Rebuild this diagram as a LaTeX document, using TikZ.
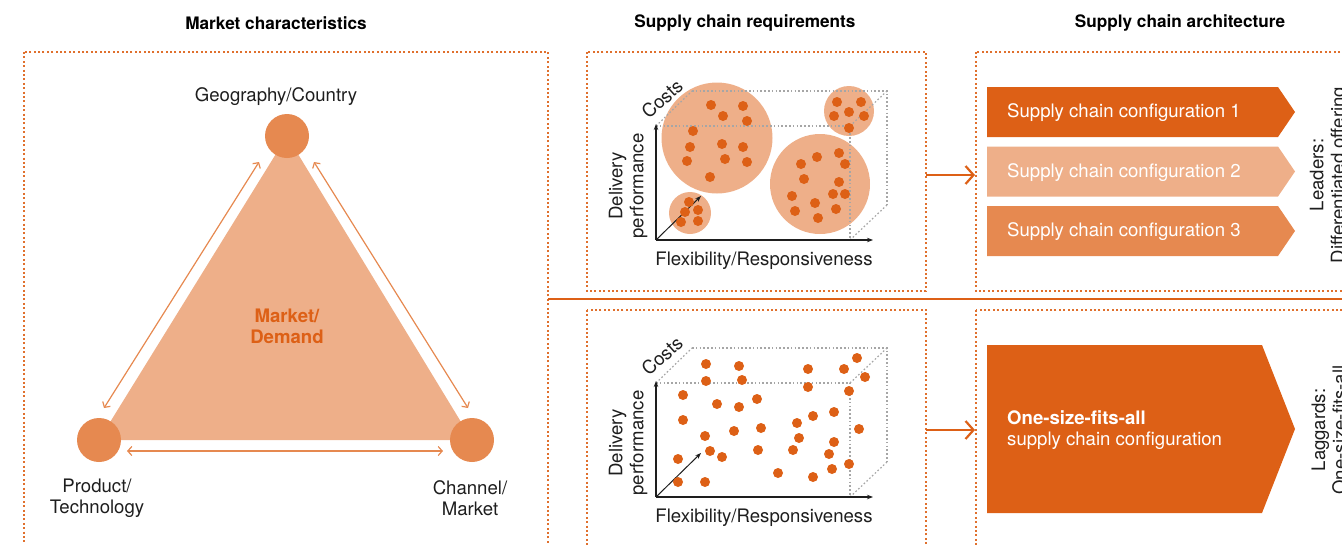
\documentclass[tikz,border=0pt]{standalone}
\usepackage{fontspec}
\setmainfont{TeX Gyre Heros}
\usetikzlibrary{arrows.meta, positioning}
\definecolor{pumpkin}{RGB}{221,96,22}
\definecolor{apricot}{RGB}{238,175,137}
\definecolor{tangerine}{RGB}{230,137,80}
\definecolor{inkgray}{RGB}{30,30,30}
\tikzset{frame/.style = {draw=pumpkin!90, line width=2pt, dash pattern=on 2pt off 2.4pt}}
\tikzset{cube/.style = {draw=gray!70, line width=1.2pt, dash pattern=on 1.6pt off 2.2pt}}
\tikzset{axis/.style = {draw=inkgray, line width=1.3pt, -{Stealth[length=6pt,width=4.5pt]}}}
\tikzset{link/.style = {draw=tangerine, line width=1.2pt, {Straight Barb[length=4pt,width=9pt]}-{Straight Barb[length=4pt,width=9pt]}}}
\tikzset{flow/.style = {draw=pumpkin, line width=2.2pt, -{Straight Barb[length=8pt,width=18pt]}}}
\tikzset{txt/.style = {text=inkgray, font=\fontsize{18.6}{21}\selectfont, align=center, inner sep=0pt}}
\tikzset{title/.style = {text=black, font=\fontsize{17.2}{20}\selectfont\bfseries, inner sep=0pt}}
\tikzset{vertex/.style = {circle, fill=tangerine, minimum size=44pt, inner sep=0pt}}
\def\R{5}
\def\dY{59.5}

\begin{document}
\begin{tikzpicture}[x=1pt, y=-1pt]
	\useasboundingbox (0,0) rectangle (1342,544);

	% Titles
	\node[title] (mkttitle) at (276,23) {Market characteristics};
	\node[title] (reqtitle) at (745,23) {Supply chain requirements};
	\node[title] (archtitle) at (1180,23) {Supply chain architecture};

	% Frames
	\draw[frame] (24,52) rectangle (548,570);
	\draw[frame] (587,52) rectangle (926,291);
	\draw[frame] (587,310) rectangle (926,570);
	\draw[frame] (976,52) rectangle (1370,291);
	\draw[frame] (976,310) rectangle (1370,570);
	\draw[pumpkin, line width=2pt] (548,299) -- (1370,299);

	% Triangle
	\fill[apricot] (287,136) -- (99,440) -- (472,440) -- cycle;
	\node[vertex] (geo) at (287,136) {};
	\node[vertex] (prod) at (99,440) {};
	\node[vertex] (chan) at (472,440) {};
	%% Links
	\coordinate (geoL) at (259,162);
	\coordinate (geoR) at (314,162);
	\coordinate (prodT) at (104,408);
	\coordinate (prodR) at (127,451);
	\coordinate (chanT) at (468,408);
	\coordinate (chanL) at (443,451);
	\draw[link] (geoL) -- (prodT);
	\draw[link] (geoR) -- (chanT);
	\draw[link] (prodR) -- (chanL);
	%% Labels
	\node[txt] (geolbl) at (276,97) {Geography/Country};
	\node[txt] (prodlbl) at (97,498) {Product/\\Technology};
	\node[txt] (chanlbl) at (470,498) {Channel/\\Market};
	\node[txt, text=pumpkin, font=\fontsize{18.6}{21}\selectfont\bfseries] (core) at (287,326) {Market/\\Demand};

	% Clusters
	\fill[apricot] (717,138) circle (55.5);
	\fill[apricot] (690,213) circle (21);
	\fill[apricot] (849,111) circle (25);
	\fill[apricot] (820,184) circle (50);

	% Axes and Cubes
	\foreach \dy in {0, 257}
	{
		\begin{scope}[shift={(0,\dy)}]
			% Dotted cube
			\draw[cube] (656,126) -- (850,126) -- (850,240);
			\draw[cube] (692,91) -- (887,91) -- (887,205);
			\draw[cube] (656,126) -- (692,91);
			\draw[cube] (850,126) -- (887,91);
			\draw[cube] (850,240) -- (887,205);
			% Axes
			\coordinate (orig\dy) at (656,240);
			\coordinate (yend\dy) at (656,124);
			\coordinate (xend\dy) at (873,240);
			\coordinate (zend\dy) at (701,196);
			\draw[axis] (orig\dy) -- (yend\dy);
			\draw[axis] (orig\dy) -- (xend\dy);
			\draw[axis, line width=1pt] (orig\dy) -- (zend\dy);
			% Axis labels
			\node[txt, rotate=42] (costs\dy) at (662,99) {Costs};
			\node[txt, rotate=90] (perf\dy) at (628,186) {Delivery\\performance};
			\node[txt] (flex\dy) at (764,261) {Flexibility/Responsiveness};
		\end{scope}
	}

	% Dots
	\foreach \p in {(711,105),(743,106),(723,116),(747,121),(693,131),(690,147),(722,144),(743,147),(687,161),(725,159),(747,162),(710,177),
		(689,202),(685,212),(698,210),(681,222),(698,221),
		(837,102),(861,102),(834,116),(849,112),(864,116),(849,128),
		(839,153),(817,157),(801,164),(845,164),(804,179),(839,182),(792,196),(833,194),(845,194),(815,203),(795,211),(836,209),(818,218)}
	{
		\fill[pumpkin] \p circle (\R);
	}
	\foreach \p in {(706,364),(739,366),(808,369),(844,369),(857,358),(865,377),(706,381),(742,380),(808,387),(849,391),
		(683,395),(757,399),(717,404),(739,407),(683,420),(813,416),(834,412),(761,428),(797,423),(734,431),(859,429),
		(705,436),(799,438),(834,442),(710,451),(758,450),(793,450),(678,459),(722,457),(829,454),(849,464),
		(778,473),(813,477),(832,469),(678,482),(705,482)}
	{
		\fill[pumpkin] \p circle (\R);
	}

	% Flow arrows
	\coordinate (reqtop) at (926,175);
	\coordinate (archtop) at (975,175);
	\coordinate (reqbot) at (926,430);
	\coordinate (archbot) at (975,430);
	\draw[flow] (reqtop) -- (archtop);
	\draw[flow] (reqbot) -- (archbot);

	% Configurations
	\foreach \i/\col in {1/pumpkin, 2/apricot, 3/tangerine}
	{
		\fill[\col] (987,87+\i*\dY-\dY) -- ++(291,0) -- ++(17,25) -- ++(-17,25) -- ++(-291,0) -- cycle;
		\node[txt, text=white, anchor=west] (cfg\i) at (1007,113+\i*\dY-\dY) {Supply chain configuration \i};
	}
	\fill[pumpkin] (987,345) -- (1262,345) -- (1295,429) -- (1262,513) -- (987,513) -- cycle;
	\node[txt, text=white, anchor=west, align=left] (onesize) at (1007,430) {\textbf{One-size-fits-all}\\supply chain configuration};

	% Side labels
	\node[txt, rotate=90] (leaders) at (1329,175) {Leaders:\\Differentiated offering};
	\node[txt, rotate=90] (laggards) at (1329,430) {Laggards:\\One-size-fits-all};
\end{tikzpicture}
\end{document}
